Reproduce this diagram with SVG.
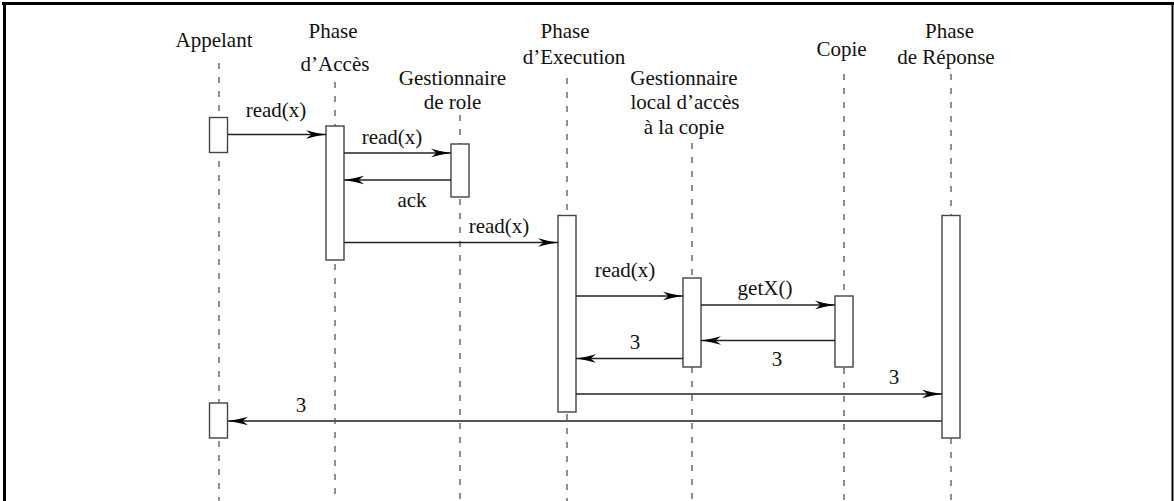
<svg xmlns="http://www.w3.org/2000/svg" width="1174" height="501" viewBox="0 0 1174 501">
<style>
text{font-family:"Liberation Serif","Times New Roman","DejaVu Serif",serif;font-size:21px;fill:#111;text-anchor:middle}
.life{stroke:#555;stroke-width:1.3;stroke-dasharray:6 8;fill:none}
.act{fill:#fff;stroke:#444;stroke-width:1.4}
.msg{stroke:#222;stroke-width:1.3;fill:none;marker-end:url(#ah)}
.frame{stroke:#000;fill:none}
</style>
<defs>
<marker id="ah" markerUnits="userSpaceOnUse" markerWidth="20" markerHeight="10" viewBox="0 0 20 10" refX="20" refY="5" orient="auto">
<path d="M0,0.8 Q10,3.8 20,5 Q10,6.2 0,9.2 L5.5,5 Z" fill="#000"/>
</marker>
</defs>
<rect width="1174" height="501" fill="#fff"/>
<g id="frame">
<line class="frame" x1="2" y1="3.5" x2="1174" y2="3.5" stroke-width="3"/>
<line class="frame" x1="4.5" y1="2" x2="4.5" y2="501" stroke-width="3"/>
<line class="frame" x1="1172.5" y1="2" x2="1172.5" y2="501" stroke-width="2"/>
</g>
<g id="appelant" font-family="Liberation Serif, serif">
<text x="214" y="47">Appelant</text>
<line class="life" x1="219" y1="63" x2="219" y2="501"/>
<rect class="act" x="209.5" y="117.5" width="18" height="35"/>
<rect class="act" x="209.5" y="403" width="18" height="35"/>
</g>
<g id="phase-acces">
<text x="333" y="37.5">Phase</text>
<text x="335" y="71">d’Accès</text>
<line class="life" x1="335" y1="82" x2="335" y2="501"/>
<rect class="act" x="326" y="126" width="18" height="134"/>
</g>
<g id="gestionnaire-role">
<text x="452.5" y="85">Gestionnaire</text>
<text x="452.5" y="109">de role</text>
<line class="life" x1="460" y1="115" x2="460" y2="501"/>
<rect class="act" x="451" y="144" width="18" height="53"/>
</g>
<g id="phase-execution">
<text x="565" y="37.5">Phase</text>
<text x="574" y="64">d’Execution</text>
<line class="life" x1="567" y1="78" x2="567" y2="501"/>
<rect class="act" x="558" y="215.5" width="18" height="196.5"/>
</g>
<g id="gestionnaire-local">
<text x="684" y="85">Gestionnaire</text>
<text x="685" y="109">local d’accès</text>
<text x="684" y="134">à la copie</text>
<line class="life" x1="692" y1="143" x2="692" y2="501"/>
<rect class="act" x="683" y="278" width="18" height="89"/>
</g>
<g id="copie">
<text x="841.5" y="56">Copie</text>
<line class="life" x1="844" y1="74" x2="844" y2="501"/>
<rect class="act" x="835" y="296" width="18" height="71"/>
</g>
<g id="phase-reponse">
<text x="949.5" y="37.5">Phase</text>
<text x="946" y="63.5">de Réponse</text>
<line class="life" x1="951" y1="74" x2="951" y2="501"/>
<rect class="act" x="942" y="215.5" width="18" height="222.5"/>
</g>
<g id="connectors">
<line class="msg" x1="228" y1="134.5" x2="326" y2="134.5"/>
<text x="276" y="117">read(x)</text>
<line class="msg" x1="344" y1="153" x2="451" y2="153"/>
<text x="392" y="143.5">read(x)</text>
<line class="msg" x1="451" y1="180" x2="344" y2="180"/>
<text x="412" y="206.5">ack</text>
<line class="msg" x1="344" y1="242.5" x2="558" y2="242.5"/>
<text x="499" y="233">read(x)</text>
<line class="msg" x1="576" y1="296" x2="683" y2="296"/>
<text x="625" y="277">read(x)</text>
<line class="msg" x1="701" y1="305" x2="835" y2="305"/>
<text x="765" y="295">getX()</text>
<line class="msg" x1="835" y1="340.5" x2="701" y2="340.5"/>
<text x="777" y="366">3</text>
<line class="msg" x1="683" y1="358.5" x2="576" y2="358.5"/>
<text x="635" y="349">3</text>
<line class="msg" x1="576" y1="394" x2="942" y2="394"/>
<text x="894" y="384">3</text>
<line class="msg" x1="942" y1="421" x2="228" y2="421" style="stroke:#555;stroke-width:2"/>
<text x="301" y="412">3</text>
</g>
</svg>
